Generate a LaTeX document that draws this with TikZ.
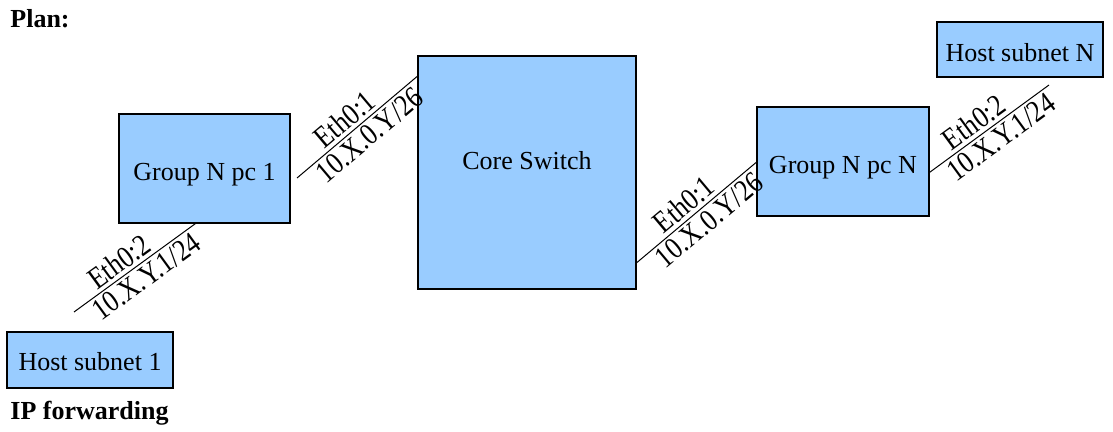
\documentclass[tikz,border=0pt]{standalone}
\usepackage{fontspec}
\setmainfont{Liberation Serif}
\usetikzlibrary{calc}
\definecolor{boxblue}{HTML}{99CCFF}
\tikzset{
	netbox/.style={draw, line width=0.7pt, fill=boxblue, inner sep=0pt},
	boxtext/.style={inner sep=0pt, font=\fontsize{13}{15}\selectfont},
	link/.style={line width=0.5pt},
	linklabel/.style={sloped, inner sep=1.5pt, font=\fontsize{13}{15}\selectfont},
	title/.style={anchor=base west, inner sep=0pt, font=\fontsize{13}{15}\selectfont\bfseries}
}
\newcommand{\tall}[1]{\scalebox{1}[1.18]{#1}}
\begin{document}
\begin{tikzpicture}[x=0.5pt, y=-0.5pt]
	\useasboundingbox (0, 0) rectangle (1113, 432);
	
	\node [netbox, minimum width=83pt, minimum height=28pt,
		label={[boxtext, yshift=-1pt]center:Host subnet 1}] (host1) at (90, 360) {};
	\node [netbox, minimum width=85.5pt, minimum height=54.5pt,
		label={[boxtext, yshift=-3pt]center:Group N pc 1}] (pc1) at (204.5, 168.5) {};
	\node [netbox, minimum width=109pt, minimum height=116.5pt,
		label={[boxtext, yshift=6pt]center:Core Switch}] (core) at (527, 172.5) {};
	\node [netbox, minimum width=86pt, minimum height=54.5pt,
		label={[boxtext, yshift=-3pt]center:Group N pc N}] (pcN) at (843, 161.5) {};
	\node [netbox, minimum width=83pt, minimum height=27.5pt,
		label={[boxtext, yshift=-1.5pt]center:Host subnet N}] (hostN) at (1020, 49.5) {};
	
	\node [title] (plan) at (10, 28) {Plan:};
	\node [title] (ipfwd) at (10, 420) {IP forwarding};
	
	\coordinate (end1) at (74, 312);
	\coordinate (end2) at (297, 178);
	\coordinate (end4) at (1049, 85);
	
	\draw [link] (end1) -- ($(pc1.south west)+(77, 0)$)
		node [linklabel, pos=0.44, above] {\tall{Eth0:2}}
		node [linklabel, pos=0.53, below] {\tall{10.X.Y.1/24}};
	\draw [link] (end2) -- ($(core.north west)+(0, 21)$)
		node [linklabel, pos=0.47, above] {\tall{Eth0:1}}
		node [linklabel, pos=0.53, below] {\tall{10.X.0.Y/26}};
	\draw [link] ($(core.south east)+(0, -27)$) -- ($(pcN.north west)+(0, 56)$)
		node [linklabel, pos=0.47, above] {\tall{Eth0:1}}
		node [linklabel, pos=0.53, below] {\tall{10.X.0.Y/26}};
	\draw [link] ($(pcN.north east)+(0, 66)$) -- (end4)
		node [linklabel, pos=0.44, above] {\tall{Eth0:2}}
		node [linklabel, pos=0.53, below] {\tall{10.X.Y.1/24}};
\end{tikzpicture}
\end{document}
